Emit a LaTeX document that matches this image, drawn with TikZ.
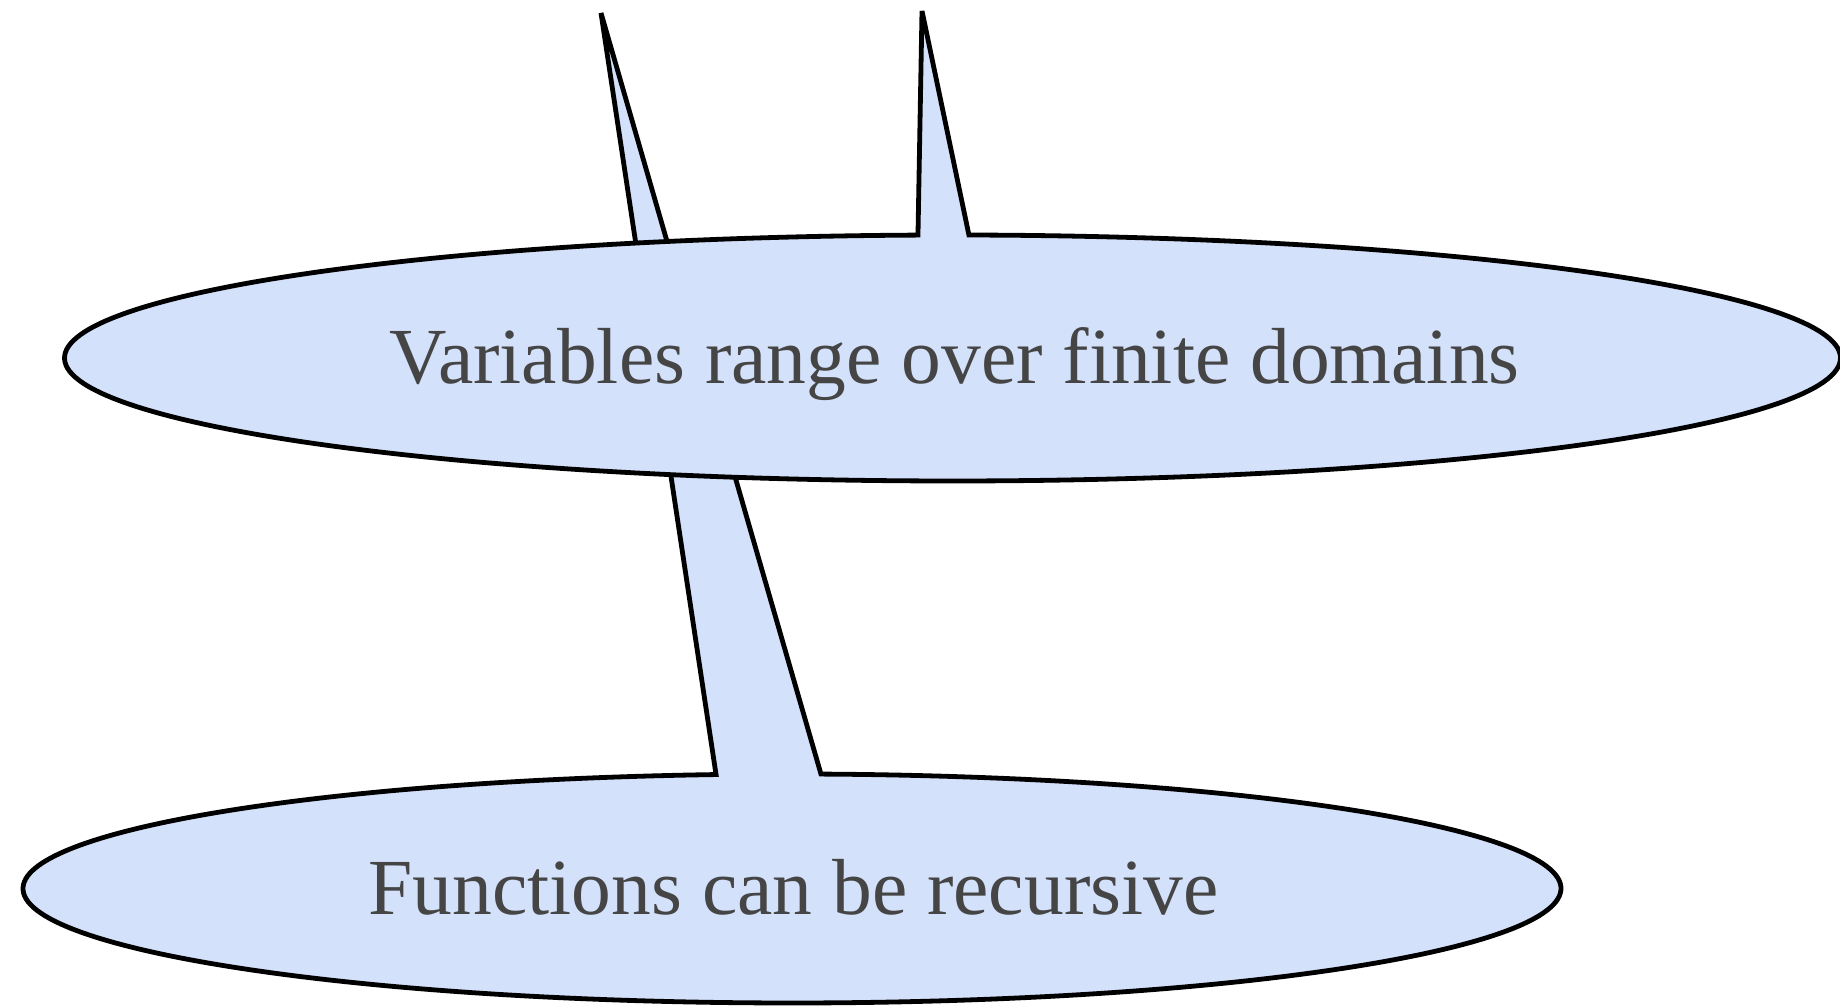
\documentclass[tikz,border=0pt]{standalone}
\usepackage{fontspec}
\setmainfont{Liberation Serif}
\usetikzlibrary{calc}
\definecolor{bubblefill}{HTML}{D4E1FB}
\definecolor{labelgray}{HTML}{454545}
\tikzset{
  bubble/.style={fill=bubblefill, draw=black, line width=4.8pt,
    line join=miter, miter limit=4},
  bubbletext/.style={text=labelgray, font=\fontsize{79.5}{95}\selectfont,
    inner sep=0pt, anchor=base},
}
\begin{document}
\begin{tikzpicture}[x=1pt,y=1pt]
\useasboundingbox (0,0) rectangle (1840,1006);

% lower callout: ellipse with a long pointer running up behind the upper one
\coordinate (recC) at (792,117.5);
\coordinate (recTip) at (601,993);
\path[bubble] (recTip)
  -- ([shift={(recC)}]87.84:769 and 114.5)
  arc[start angle=87.84, end angle=-264.33, x radius=769, y radius=114.5]
  -- cycle;
\node[bubbletext] (rec) at (793.5,91.3) {Functions can be recursive};

% upper callout: wide ellipse with a short pointer at the top
\coordinate (varC) at (952.5,648);
\coordinate (varTip) at (922,995);
\path[bubble] (varTip)
  -- ([shift={(varC)}]88.94:888 and 123)
  arc[start angle=88.94, end angle=-267.77, x radius=888, y radius=123]
  -- cycle;
\node[bubbletext] (vars) at (954.5,622.5) {Variables range over finite domains};
\end{tikzpicture}
\end{document}
